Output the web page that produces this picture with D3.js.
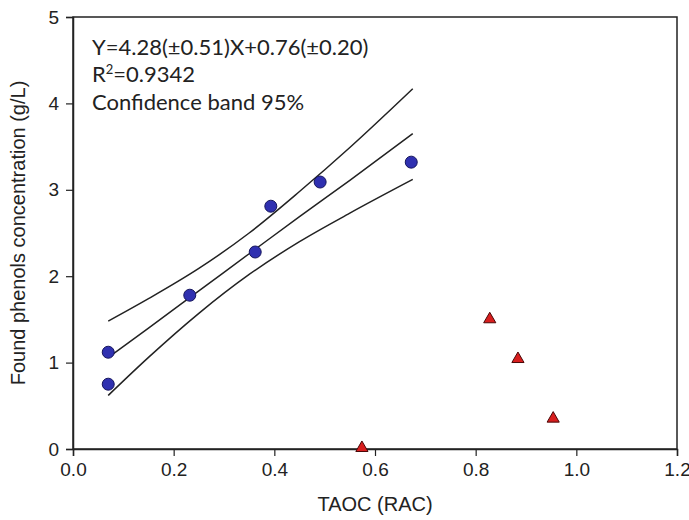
<!DOCTYPE html>
<html>
<head>
<meta charset="utf-8">
<script src="https://cdn.jsdelivr.net/npm/d3@7"></script>
<style>
  body { margin: 0; background: #fff; }
</style>
</head>
<body>
<div id="chartDiv"></div>
<script>
// samples used in the fit (blue circles)
const fitX = [0.07, 0.07, 0.232, 0.362, 0.393, 0.491, 0.672];
const fitY = [1.12, 0.75, 1.78, 2.28, 2.81, 3.09, 3.32];
// outliers (red triangles)
const outX = [0.574, 0.828, 0.884, 0.954];
const outY = [0.0, 1.49, 1.03, 0.34];
// regression line and 95% confidence band
const bandX = [0.07, 0.15, 0.25, 0.35, 0.45, 0.55, 0.675];
const fitLine = [1.06, 1.40, 1.83, 2.26, 2.69, 3.11, 3.65];
const upperBand = [1.48, 1.74, 2.09, 2.50, 2.98, 3.49, 4.17];
const lowerBand = [0.62, 1.06, 1.57, 2.02, 2.40, 2.73, 3.12];
const xTicks = [0, 0.2, 0.4, 0.6, 0.8, 1.0, 1.2];
const yTicks = [0, 1, 2, 3, 4, 5];
const notes = ["Y=4.28(\u00B10.51)X+0.76(\u00B10.20)", "R2=0.9342", "Confidence band 95%"];

const W = 689, H = 520;
const margin = { left: 73, right: 12, top: 17, bottom: 71 };
const arial = '"Liberation Sans", Arial, Helvetica, sans-serif';
const ink = '#222';

const svg = d3.select('#chartDiv').append('svg')
    .attr('width', W)
    .attr('height', H);

const x = d3.scaleLinear().domain([0, 1.2]).range([margin.left, W - margin.right]);
const y = d3.scaleLinear().domain([0, 5]).range([H - margin.bottom, margin.top]);

// frame
svg.append('rect')
    .attr('x', x(0)).attr('y', y(5))
    .attr('width', x(1.2) - x(0)).attr('height', y(0) - y(5))
    .attr('fill', 'none').attr('stroke', ink).attr('stroke-width', 1.5);

const xAxis = svg.append('g')
    .attr('transform', `translate(0,${y(0)})`)
    .call(d3.axisBottom(x).tickValues(xTicks).tickFormat(d3.format('.1f')).tickSize(7).tickPadding(7));
const yAxis = svg.append('g')
    .attr('transform', `translate(${x(0)},0)`)
    .call(d3.axisLeft(y).tickValues(yTicks).tickFormat(d3.format('d')).tickSize(7).tickPadding(7));

[xAxis, yAxis].forEach(g => {
    g.select('.domain').attr('stroke', ink).attr('stroke-width', 1.5);
    g.selectAll('.tick line').attr('stroke', ink).attr('stroke-width', 1.2);
    g.selectAll('.tick text')
        .style('font-family', arial).style('font-size', '19px').attr('fill', ink);
});

// axis titles
svg.append('text')
    .attr('x', (x(0) + x(1.2)) / 2).attr('y', 511)
    .attr('text-anchor', 'middle')
    .style('font-family', arial).style('font-size', '20px').attr('fill', ink)
    .text('TAOC (RAC)');
svg.append('text')
    .attr('transform', `translate(25,${(y(0) + y(5)) / 2}) rotate(-90)`)
    .attr('text-anchor', 'middle')
    .style('font-family', arial).style('font-size', '20px').attr('fill', ink)
    .text('Found phenols concentration (g/L)');

// lines
const line = d3.line().curve(d3.curveMonotoneX);
[upperBand, fitLine, lowerBand].forEach(arr => {
    svg.append('path')
        .attr('d', line(bandX.map((v, i) => [x(v), y(arr[i])])))
        .attr('fill', 'none').attr('stroke', ink).attr('stroke-width', 1.5);
});

// blue circles
svg.selectAll('.fitPt')
    .data(fitX.map((v, i) => [v, fitY[i]]))
    .enter().append('circle')
    .attr('class', 'fitPt')
    .attr('cx', d => x(d[0])).attr('cy', d => y(d[1]))
    .attr('r', 6)
    .attr('fill', '#2f30b0').attr('stroke', '#16165e').attr('stroke-width', 1);

// red triangles
const tri = d3.symbol().type(d3.symbolTriangle).size(64);
svg.selectAll('.outPt')
    .data(outX.map((v, i) => [v, outY[i]]))
    .enter().append('path')
    .attr('class', 'outPt')
    .attr('d', tri)
    .attr('transform', d => `translate(${x(d[0])},${y(d[1]) - 1})`)
    .attr('fill', '#d81e1e').attr('stroke', '#4a0808').attr('stroke-width', 1);

// annotation
const noteFont = 'Lato, "Open Sans", sans-serif';
const note = svg.append('g');
note.append('text').attr('x', 92).attr('y', 55).text(notes[0]);
const r2 = note.append('text').attr('x', 92).attr('y', 82);
r2.append('tspan').text('R');
r2.append('tspan').style('font-size', '13px').attr('dy', -8).text('2');
r2.append('tspan').attr('dy', 8).text('=0.9342');
note.append('text').attr('x', 92).attr('y', 110).text(notes[2]);
note.selectAll('text').style('font-family', noteFont).style('font-size', '22px').attr('fill', ink);
r2.select('tspan:nth-child(2)').style('font-size', '13px');
</script>
</body>
</html>
